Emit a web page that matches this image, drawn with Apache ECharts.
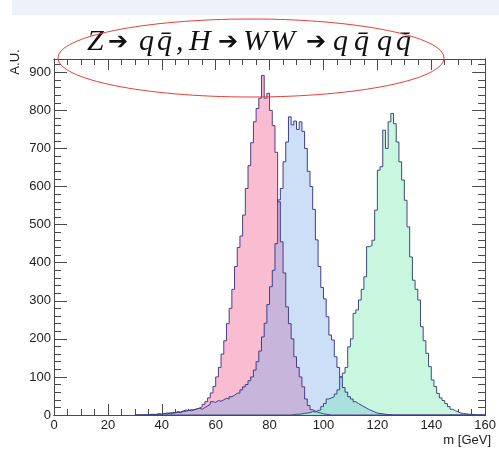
<!DOCTYPE html>
<html><head><meta charset="utf-8">
<script src="https://cdn.jsdelivr.net/npm/echarts@6/dist/echarts.min.js"></script>
<style>html,body{margin:0;padding:0;background:#fff}#c{width:499px;height:454px}</style>
</head><body><div id="c"></div>
<script>
// ---- data: 1 GeV bins, first bin low edge = binStart ----
const binStart = 30;
const binWidth = 1;
// pink histogram (m 30..159)
const pinkCounts = [
  0,0,0,0,0,
  1,2,1,3,2,4,3,5,4,6,
  7,6,9,10,12,11,14,16,18,22,
  28,35,45,58,75,100,125,160,195,240,
  280,330,390,440,470,525,595,655,715,770,
  805,832,892,832,845,800,760,690,560,455,
  373,284,240,200,153,125,100,74,42,25,
  14,10,7,5,3,2,1,0,0,0,
  0,0,0,0,0,0,0,0,0,0,0,0,0,0,0,0,0,0,0,0,0,0,0,0,0,0,0,0,0,0,
  0,0,0,0,0,0,0,0,0,0,0,0,0,0,0,0,0,0,0,0,0,0,0,0,0
];
// blue histogram
const blueCounts = [
  0,0,0,1,0,
  2,1,2,3,2,4,5,5,7,6,
  9,8,11,13,12,14,13,16,18,15,
  20,24,28,35,33,38,36,40,44,42,
  48,52,57,58,66,74,80,90,100,118,
  140,168,205,241,290,337,380,450,565,595,
  665,717,783,762,772,750,770,745,700,640,
  600,540,460,390,335,305,258,210,197,153,
  125,100,72,60,48,42,35,30,26,22,
  18,14,11,8,5,4,3,2,1,1,
  0,0,0,0,0,0,0,0,0,0,0,0,0,0,0,0,0,0,0,0,0,0,0,0,0,0,0,0,0,0,0,0,0,0,0
];
// green histogram
const greenCounts = [
  0,0,0,0,0,0,0,0,0,0,0,0,0,0,0,0,0,0,0,0,0,0,0,0,0,0,0,0,0,
  0,0,0,0,0,0,0,0,0,0,0,0,0,0,0,0,0,0,0,0,0,0,0,0,0,0,0,0,0,
  1,2,2,3,4,5,6,9,8,12,
  13,22,30,42,45,48,55,66,100,110,
  125,179,200,267,276,302,330,363,442,445,
  459,538,643,652,748,700,770,792,765,717,
  665,617,564,494,415,354,330,302,232,195,
  162,127,92,75,57,45,38,30,22,15,
  11,8,5,4,3,2,2,1,0,0,
  0,0
];
const xMajor = [0,20,40,60,80,100,120,140,160];
const xMinor = [5,10,15,25,30,35,45,50,55,65,70,75,85,90,95,105,110,115,125,130,135,145,150,155];
const yMajor = [0,100,200,300,400,500,600,700,800,900];
const yMinor = [20,40,60,80,120,140,160,180,220,240,260,280,320,340,360,380,420,440,460,480,520,540,560,580,620,640,660,680,720,740,760,780,820,840,860,880,920];
const xRange = [0,160];
const yRange = [0,935];
const xTitle = 'm [GeV]';
const yTitle = 'A.U.';

// ---- build ----
function histPoints(counts){
  const pts = [[binStart,0]];
  counts.forEach((c,i)=>pts.push([binStart+i*binWidth,c]));
  pts.push([binStart+counts.length*binWidth,0]);
  return pts;
}
const purpleCounts = pinkCounts.map((v,i)=>Math.min(v,blueCounts[i]));
const tealCounts = blueCounts.map((v,i)=>Math.min(v,greenCounts[i]));

const LAB = "'Liberation Sans Narrow','Liberation Sans',Arial,sans-serif";
const AX = '#4a4a4a';
function xa(pos, vals, len, labels){
  return {type:'value', position:pos, min:xRange[0], max:xRange[1],
    axisLine:{show:true,onZero:false,lineStyle:{color:AX,width:1}},
    axisTick:{show:true,inside:true,length:len,customValues:vals,lineStyle:{color:AX,width:1}},
    axisLabel:{show:labels,customValues:vals,margin:4,fontSize:13,color:'#222',fontFamily:LAB},
    splitLine:{show:false}};
}
function ya(pos, vals, len, labels){
  return {type:'value', position:pos, min:yRange[0], max:yRange[1],
    axisLine:{show:true,onZero:false,lineStyle:{color:AX,width:1}},
    axisTick:{show:true,inside:true,length:len,customValues:vals,lineStyle:{color:AX,width:1}},
    axisLabel:{show:labels,customValues:vals,margin:3,fontSize:13,color:'#222',fontFamily:LAB},
    splitLine:{show:false}};
}
function fill(counts,color){
  return {type:'line',step:'end',data:histPoints(counts),showSymbol:false,silent:true,
    lineStyle:{width:0,opacity:0},areaStyle:{color:color,opacity:1},z:2};
}
function outline(counts,color){
  return {type:'line',step:'end',data:histPoints(counts),showSymbol:false,silent:true,
    lineStyle:{width:1,color:color},z:5};
}

const TF = 'italic 30px "Liberation Serif", "DejaVu Serif", serif';
const AF = 'bold 24px "DejaVu Sans", sans-serif';
const titleParts = [
  ['Z',TF,87],['➔',AF,108],['q',TF,139],['q̄',TF,157],[',',TF,176],['H',TF,189],
  ['➔',AF,218],['W',TF,243],['W',TF,270],['➔',AF,306],['q',TF,333],['q̄',TF,354],['q',TF,377],['q̄',TF,396]
];
const graphics = [
  {type:'rect',shape:{x:12,y:0,width:487,height:15},style:{fill:'#edf1f9'},z:0},
  {type:'text',x:15,y:62,rotation:Math.PI/2,style:{text:yTitle,font:'13px '+LAB,fill:'#222',align:'center',verticalAlign:'middle'}},
  {type:'text',x:491,y:440,style:{text:xTitle,font:'13px '+LAB,fill:'#222',align:'right',verticalAlign:'middle'}},
  {type:'ellipse',shape:{cx:251,cy:58,rx:193,ry:39},style:{fill:null,stroke:'#e5403a',lineWidth:1},z:100}
];
titleParts.forEach(p=>{
  graphics.push({type:'text',x:p[2],y:p[1]===AF?43:42,style:{text:p[0],font:p[1],fill:'#111',align:'left',verticalAlign:'middle'},z:50});
});

const chart = echarts.init(document.getElementById('c'),null,{renderer:'canvas'});
chart.setOption({
  animation:false,
  backgroundColor:'#fff',
  grid:{left:54,right:8,top:59,bottom:39,containLabel:false},
  xAxis:[xa('bottom',xMajor,11,true),xa('bottom',xMinor,6,false),xa('top',xMajor,11,false),xa('top',xMinor,6,false)],
  yAxis:[ya('left',yMajor,13,true),ya('left',yMinor,7,false),ya('right',yMajor,13,false),ya('right',yMinor,7,false)],
  series:[
    fill(pinkCounts,'#f9bcd0'),
    fill(blueCounts,'#cddff6'),
    fill(greenCounts,'#c9f6de'),
    fill(purpleCounts,'#c8b5dc'),
    fill(tealCounts,'#a9e2dc'),
    outline(pinkCounts,'#4a3f86'),
    outline(blueCounts,'#3c3f86'),
    outline(greenCounts,'#3c4a7a')
  ],
  graphic:graphics
});
</script>
</body></html>
